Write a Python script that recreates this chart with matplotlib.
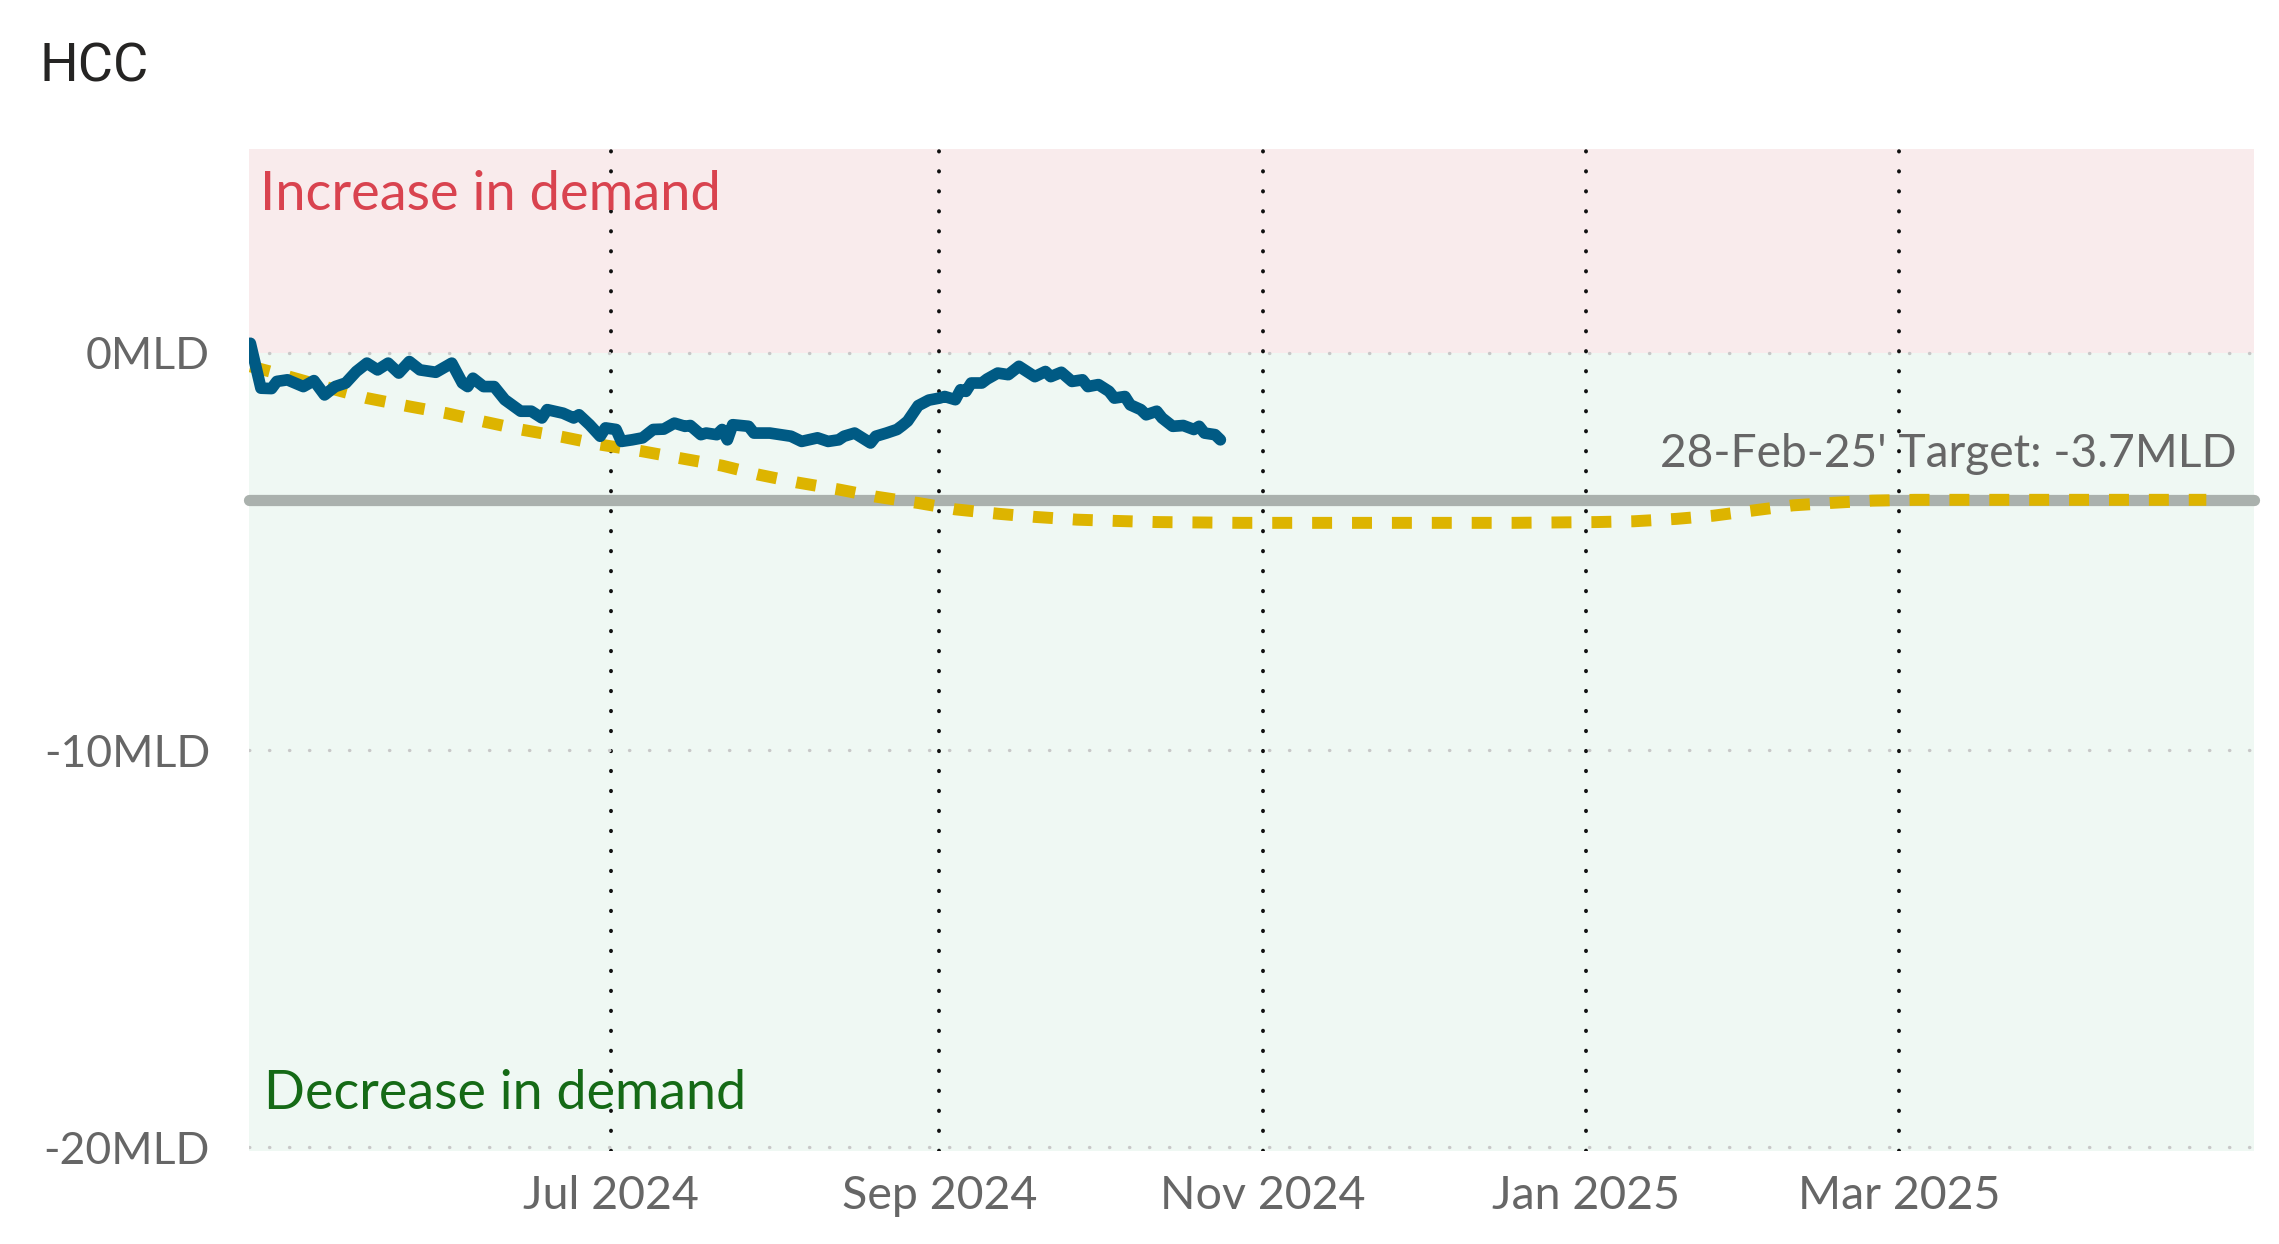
import matplotlib
matplotlib.use('Agg')
import matplotlib.pyplot as plt
import pandas as pd

plt.rcParams['font.family'] = ['Lato', 'DejaVu Sans']

# ---------------- data ----------------
actual_dates = [
    '2024-04-24', '2024-04-26', '2024-04-28', '2024-04-29', '2024-05-01', '2024-05-04',
    '2024-05-06', '2024-05-08', '2024-05-10', '2024-05-12', '2024-05-14', '2024-05-16',
    '2024-05-18', '2024-05-20', '2024-05-22', '2024-05-24', '2024-05-26', '2024-05-29',
    '2024-06-01', '2024-06-03', '2024-06-04', '2024-06-05', '2024-06-07', '2024-06-09',
    '2024-06-11', '2024-06-14', '2024-06-16', '2024-06-18', '2024-06-19', '2024-06-22',
    '2024-06-24', '2024-06-25', '2024-06-27', '2024-06-29', '2024-06-30', '2024-07-02',
    '2024-07-03', '2024-07-05', '2024-07-07', '2024-07-09', '2024-07-11', '2024-07-13',
    '2024-07-15', '2024-07-16', '2024-07-18', '2024-07-19', '2024-07-21', '2024-07-22',
    '2024-07-23', '2024-07-24', '2024-07-27', '2024-07-28', '2024-07-31', '2024-08-04',
    '2024-08-06', '2024-08-09', '2024-08-11', '2024-08-13', '2024-08-14', '2024-08-16',
    '2024-08-19', '2024-08-20', '2024-08-22', '2024-08-24', '2024-08-25', '2024-08-26',
    '2024-08-28', '2024-08-30', '2024-09-01', '2024-09-02', '2024-09-04', '2024-09-05',
    '2024-09-06', '2024-09-07', '2024-09-09', '2024-09-10', '2024-09-12', '2024-09-14',
    '2024-09-16', '2024-09-19', '2024-09-21', '2024-09-22', '2024-09-24', '2024-09-26',
    '2024-09-28', '2024-09-29', '2024-10-01', '2024-10-03', '2024-10-04', '2024-10-06',
    '2024-10-07', '2024-10-09', '2024-10-10', '2024-10-12', '2024-10-13', '2024-10-15',
    '2024-10-17', '2024-10-19', '2024-10-20', '2024-10-21', '2024-10-23', '2024-10-24',
]
actual_values = [
    0.24, -0.89, -0.90, -0.72, -0.68, -0.85,
    -0.70, -1.06, -0.85, -0.76, -0.47, -0.26,
    -0.43, -0.26, -0.51, -0.22, -0.43, -0.49,
    -0.26, -0.76, -0.85, -0.64, -0.85, -0.85,
    -1.18, -1.47, -1.47, -1.64, -1.43, -1.52,
    -1.64, -1.56, -1.81, -2.10, -1.89, -1.93,
    -2.23, -2.19, -2.14, -1.93, -1.92, -1.77,
    -1.85, -1.83, -2.06, -2.02, -2.06, -1.93,
    -2.19, -1.81, -1.85, -2.02, -2.02, -2.10,
    -2.23, -2.14, -2.23, -2.19, -2.10, -2.02,
    -2.27, -2.10, -2.02, -1.93, -1.83, -1.72,
    -1.33, -1.19, -1.14, -1.10, -1.18, -0.93,
    -0.97, -0.76, -0.76, -0.66, -0.51, -0.55,
    -0.34, -0.60, -0.47, -0.60, -0.49, -0.72,
    -0.68, -0.85, -0.80, -0.97, -1.14, -1.10,
    -1.31, -1.43, -1.56, -1.47, -1.64, -1.85,
    -1.83, -1.93, -1.85, -2.02, -2.06, -2.19,
]

target_dates = [
    '2024-04-24', '2024-04-30', '2024-05-09', '2024-05-16', '2024-05-24', '2024-05-31',
    '2024-06-07', '2024-06-14', '2024-06-22', '2024-06-29', '2024-07-07', '2024-07-14',
    '2024-07-22', '2024-07-29', '2024-08-05', '2024-08-13', '2024-08-20', '2024-08-28',
    '2024-09-04', '2024-09-12', '2024-09-19', '2024-09-27', '2024-10-04', '2024-10-12',
    '2024-10-20', '2024-10-28', '2024-12-18', '2025-01-03', '2025-01-10', '2025-01-18',
    '2025-01-25', '2025-02-02', '2025-02-09', '2025-02-16', '2025-02-24', '2025-03-04',
    '2025-04-28',
]
target_values = [
    -0.34, -0.55, -0.89, -1.14, -1.35, -1.52,
    -1.73, -1.93, -2.12, -2.31, -2.48, -2.65,
    -2.84, -3.07, -3.26, -3.44, -3.62, -3.78,
    -3.94, -4.05, -4.13, -4.20, -4.23, -4.26,
    -4.27, -4.28, -4.28, -4.26, -4.24, -4.18,
    -4.10, -3.96, -3.84, -3.78, -3.72, -3.70,
    -3.70,
]

final_target = -3.7
target_label = "28-Feb-25' Target: -3.7MLD"
title = 'HCC'
increase_label = 'Increase in demand'
decrease_label = 'Decrease in demand'

y_ticks = [0, -10, -20]
y_tick_labels = ['0MLD', '-10MLD', '-20MLD']
x_tick_dates = ['2024-07-01', '2024-09-01', '2024-11-01', '2025-01-01', '2025-03-01']
x_tick_labels = ['Jul 2024', 'Sep 2024', 'Nov 2024', 'Jan 2025', 'Mar 2025']
x_range = ['2024-04-23 18:00', '2025-05-07 00:00']
y_range = [-20.09, 5.13]

# ---------------- figure ----------------
fig = plt.figure(figsize=(22.79, 12.44), dpi=100)
ax = fig.add_axes([0.10926, 0.07476, 0.87977, 0.80547])
ax.set_xlim(pd.to_datetime(x_range))
ax.set_ylim(y_range)

ax.axhspan(0, y_range[1], color='#F9EBEC', lw=0, zorder=0)
ax.axhspan(y_range[0], 0, color='#EFF8F3', lw=0, zorder=0)

ax.set_axisbelow('line')
ax.set_yticks(y_ticks)
ax.set_yticklabels(y_tick_labels)
ax.set_xticks(pd.to_datetime(x_tick_dates))
ax.set_xticklabels(x_tick_labels)
ax.yaxis.grid(True, color='#C8C8C8', linestyle=(0, (0.1, 5.9)), linewidth=2.4,
              dash_capstyle='round')
ax.xaxis.grid(True, color='#111111', linestyle=(0, (0.1, 5.04)), linewidth=2.8,
              dash_capstyle='round')
ax.tick_params(axis='both', length=0, labelcolor='#666666')
ax.tick_params(axis='x', pad=17, labelsize=33.5)
ax.tick_params(axis='y', pad=28, labelsize=32)
for s in ax.spines.values():
    s.set_visible(False)

ax.axhline(final_target, color='#AAB1AD', lw=8.1, solid_capstyle='round',
           zorder=2, clip_on=False)
ax.plot(pd.to_datetime(target_dates), target_values, color='#DDB400', lw=8.6,
        dashes=(1.67, 1.67), dash_capstyle='butt', zorder=3)
ax.plot(pd.to_datetime(actual_dates), actual_values, color='#005A84', lw=8.4,
        solid_joinstyle='round', solid_capstyle='round', zorder=4)

ax.annotate(target_label, xy=(0.9915, final_target),
            xycoords=('axes fraction', 'data'), textcoords='offset pixels',
            xytext=(0, 33), ha='right', va='baseline', fontsize=33.2,
            color='#666666', zorder=6)

ax.text(0.0055, 0.939, increase_label, transform=ax.transAxes, ha='left',
        va='baseline', fontsize=39.0, color='#D9434F', zorder=6)
ax.text(0.0075, 0.042, decrease_label, transform=ax.transAxes, ha='left',
        va='baseline', fontsize=38.8, color='#156A16', zorder=6)

fig.text(39 / 2279, 1 - 82 / 1244, title, ha='left', va='baseline',
         fontsize=39, color='#252423', family=['Roboto', 'DejaVu Sans'])

fig.savefig('out.png', dpi=100, facecolor='white')
